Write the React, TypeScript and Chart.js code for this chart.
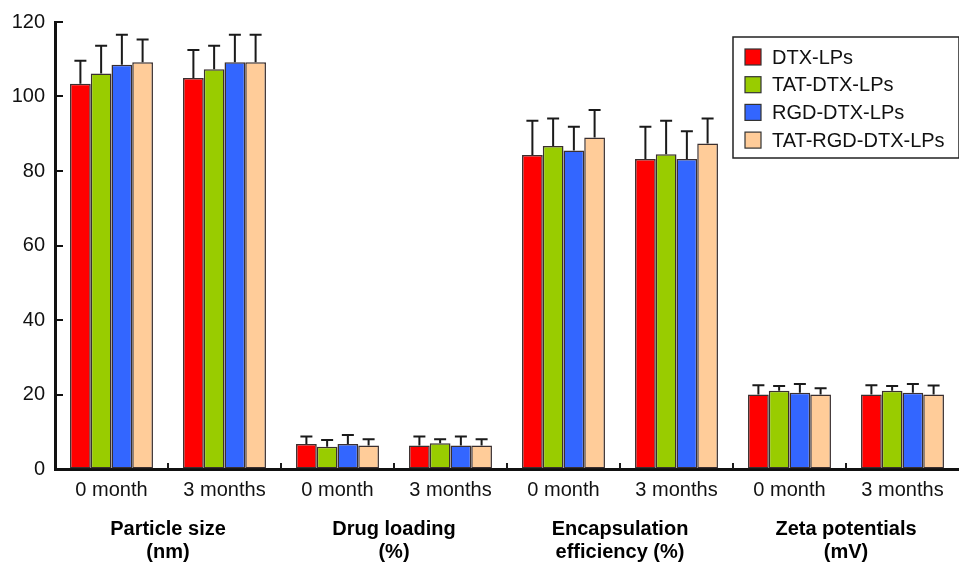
import React, { useEffect, useRef } from "react";
import { Chart, registerables } from "chart.js";

Chart.register(...registerables);

const categories = ["0 month", "3 months", "0 month", "3 months", "0 month", "3 months", "0 month", "3 months"];
const groupLabels: string[][] = [
  ["Particle size", "(nm)"],
  ["Drug loading", "(%)"],
  ["Encapsulation", "efficiency (%)"],
  ["Zeta potentials", "(mV)"],
];
const seriesNames = ["DTX-LPs", "TAT-DTX-LPs", "RGD-DTX-LPs", "TAT-RGD-DTX-LPs"];
const seriesColors = ["#ff0000", "#99cc00", "#3366ff", "#ffcc99"];

const dtxLPs = [103.4, 105.0, 6.7, 6.3, 84.3, 83.2, 20.0, 20.0];
const tatDtxLPs = [106.2, 107.3, 6.0, 6.9, 86.7, 84.5, 21.0, 21.0];
const rgdDtxLPs = [108.5, 109.2, 6.7, 6.3, 85.5, 83.2, 20.5, 20.5];
const tatRgdDtxLPs = [109.2, 109.2, 6.3, 6.3, 89.0, 87.4, 20.0, 20.0];

const dtxErr = [6.2, 7.5, 2.0, 2.4, 9.2, 8.7, 2.5, 2.5];
const tatDtxErr = [7.4, 6.3, 1.8, 1.1, 7.4, 9.0, 1.3, 1.3];
const rgdDtxErr = [8.1, 7.4, 2.4, 2.4, 6.4, 7.5, 2.3, 2.3];
const tatRgdDtxErr = [6.1, 7.4, 1.7, 1.7, 7.4, 6.7, 1.7, 2.4];

const seriesValues = [dtxLPs, tatDtxLPs, rgdDtxLPs, tatRgdDtxLPs];
const seriesErrors = [dtxErr, tatDtxErr, rgdDtxErr, tatRgdDtxErr];

const yTicks = [0, 20, 40, 60, 80, 100, 120];

const FONT = "'Liberation Sans', Arial, Helvetica, sans-serif";

const extrasPlugin = {
  id: "extras",
  afterDatasetsDraw(chart: any) {
    const ctx = chart.ctx;
    const yScale = chart.scales.y;
    ctx.save();
    ctx.strokeStyle = "#1a1a1a";
    ctx.lineWidth = 2;
    chart.data.datasets.forEach((ds: any, i: number) => {
      const meta = chart.getDatasetMeta(i);
      meta.data.forEach((el: any, j: number) => {
        const v = ds.data[j];
        const e = seriesErrors[i][j];
        const yTop = yScale.getPixelForValue(v + e);
        const yBar = el.y;
        ctx.beginPath();
        ctx.moveTo(el.x, yBar);
        ctx.lineTo(el.x, yTop);
        ctx.moveTo(el.x - 6, yTop);
        ctx.lineTo(el.x + 6, yTop);
        ctx.stroke();
      });
    });
    ctx.restore();
  },
  afterDraw(chart: any) {
    const ctx = chart.ctx;
    const xScale = chart.scales.x;
    const yScale = chart.scales.y;
    const area = chart.chartArea;
    ctx.save();
    // x axis boundary ticks (pointing up)
    ctx.strokeStyle = "#1a1a1a";
    ctx.lineWidth = 2;
    for (let i = 1; i < categories.length; i++) {
      const xb = (xScale.getPixelForValue(i - 1) + xScale.getPixelForValue(i)) / 2;
      ctx.beginPath();
      ctx.moveTo(xb, area.bottom);
      ctx.lineTo(xb, area.bottom - 6);
      ctx.stroke();
    }
    // y axis ticks (pointing inward)
    ctx.strokeStyle = "#111";
    ctx.lineWidth = 2;
    yTicks.forEach((v) => {
      if (v === 0) return;
      const yy = Math.round(yScale.getPixelForValue(v));
      ctx.beginPath();
      ctx.moveTo(area.left, yy);
      ctx.lineTo(area.left + 8, yy);
      ctx.stroke();
    });
    // group labels
    ctx.fillStyle = "#000";
    ctx.font = `bold 20px ${FONT}`;
    ctx.textAlign = "center";
    ctx.textBaseline = "middle";
    groupLabels.forEach((lines, g) => {
      const xc = (xScale.getPixelForValue(2 * g) + xScale.getPixelForValue(2 * g + 1)) / 2;
      lines.forEach((t, k) => {
        ctx.fillText(t, xc, area.bottom + 60 + k * 23);
      });
    });
    // legend
    const lx = 733, ly = 37, lw = 226, lh = 121;
    ctx.fillStyle = "#fff";
    ctx.fillRect(lx, ly, lw, lh);
    ctx.strokeStyle = "#222";
    ctx.lineWidth = 1.5;
    ctx.strokeRect(lx, ly, lw, lh);
    ctx.font = `20px ${FONT}`;
    ctx.textAlign = "left";
    ctx.textBaseline = "middle";
    seriesNames.forEach((name, i) => {
      const cy = ly + 20 + i * 27.7;
      ctx.fillStyle = seriesColors[i];
      ctx.fillRect(lx + 12, cy - 8, 16, 16);
      ctx.strokeStyle = "#333";
      ctx.lineWidth = 1.2;
      ctx.strokeRect(lx + 12, cy - 8, 16, 16);
      ctx.fillStyle = "#111";
      ctx.fillText(name, lx + 39, cy + 1);
    });
    ctx.restore();
  },
};

export default function App() {
  const ref = useRef<HTMLCanvasElement | null>(null);
  useEffect(() => {
    if (!ref.current) return;
    const chart = new Chart(ref.current, {
      type: "bar",
      data: {
        labels: categories,
        datasets: seriesNames.map((name, i) => ({
          label: name,
          data: seriesValues[i],
          backgroundColor: seriesColors[i],
          borderColor: "#3a2f2f",
          borderWidth: 1.5,
          borderSkipped: false,
          categoryPercentage: 0.734,
          barPercentage: 1.0,
        })),
      },
      options: {
        responsive: false,
        animation: false,
        devicePixelRatio: 1,
        layout: { padding: { top: 22, right: 0, left: 0, bottom: 0 } },
        plugins: {
          legend: { display: false },
          tooltip: { enabled: false },
          title: { display: false },
        },
        scales: {
          x: {
            grid: { display: false, drawTicks: false },
            border: { display: true, color: "#111", width: 3 },
            ticks: {
              color: "#111",
              font: { family: FONT, size: 20 },
              padding: 9,
              maxRotation: 0,
              autoSkip: false,
            },
            afterFit: (scale: any) => {
              scale.height = 93;
            },
          },
          y: {
            min: 0,
            max: 120,
            afterBuildTicks: (scale: any) => {
              scale.ticks = yTicks.map((v) => ({ value: v }));
            },
            grid: {
              drawOnChartArea: false,
              drawTicks: false,
            },
            border: { display: true, color: "#111", width: 3 },
            ticks: {
              color: "#111",
              font: { family: FONT, size: 20 },
              padding: 10,
            },
            afterFit: (scale: any) => {
              scale.width = 55;
            },
          },
        },
      },
      plugins: [extrasPlugin],
    });
    return () => chart.destroy();
  }, []);
  return (
    <div style={{ position: "absolute", left: 0, top: 0, width: 959, height: 562, background: "#fff" }}>
      <canvas ref={ref} width={959} height={562} style={{ display: "block", width: 959, height: 562 }} />
    </div>
  );
}
